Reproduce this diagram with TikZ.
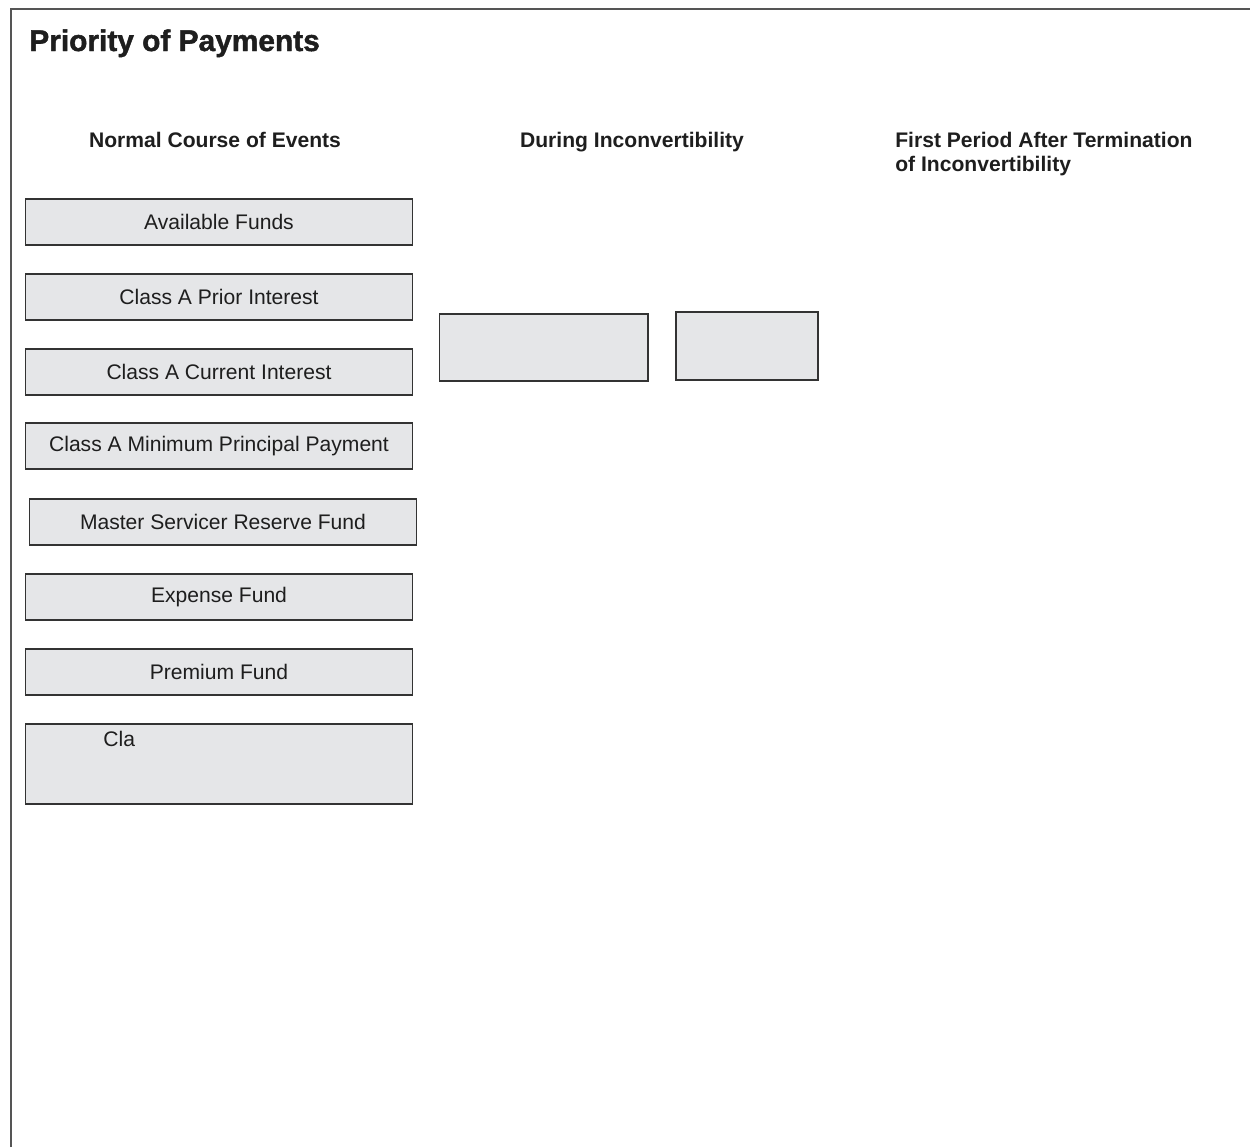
\documentclass[tikz,border=0pt]{standalone}
\usepackage{fontspec}
\setmainfont{Liberation Sans}
\newfontfamily\heavyfont[FakeBold=1.5]{Liberation Sans Bold}
\usepackage{xcolor}
\usepackage{tikz}
\usetikzlibrary{positioning}

\definecolor{boxfill}{HTML}{E5E6E8}
\definecolor{boxline}{HTML}{333333}
\definecolor{frameline}{HTML}{555555}
\definecolor{inktext}{HTML}{1E1E1E}

\tikzset{
  fundbox/.style={draw=boxline,fill=boxfill,line width=0.6pt,text=inktext,
    minimum width=7.76cm,minimum height=0.92cm,inner sep=0pt,
    font=\fontsize{12}{14}\selectfont},
  colhead/.style={font=\fontsize{12}{13.6}\selectfont\bfseries,text=inktext,inner sep=0pt},
}

\begin{document}
\begin{tikzpicture}[x=0.02cm,y=-0.02cm]

  % Page size
  \useasboundingbox (0,0) rectangle (1250,1147);

  % Frame
  \draw[frameline,line width=0.9pt] (11,1147) -- (11,9) -- (1250,9);

  % Title
  \node[anchor=base west,inner sep=0pt,text=inktext,font=\fontsize{17}{19}\heavyfont]
    (title) at (29,51) {Priority of Payments};

  % Column headings
  \node[colhead,anchor=base] (normal) at (215,147) {Normal Course of Events};
  \node[colhead,anchor=base] (during) at (632,147) {During Inconvertibility};
  \node[colhead,anchor=base west,align=left]
    (after) at (895,171) {First Period After Termination\\of Inconvertibility};

  % Normal course boxes
  \node[fundbox] (avail)  at (219,222) {Available Funds};
  \node[fundbox] (prior)  at (219,297) {Class A Prior Interest};
  \node[fundbox] (curr)   at (219,372) {Class A Current Interest};
  \node[fundbox] (minpp)  at (219,446) {Class A Minimum Principal Payment};
  \node[fundbox] (msrf)   at (223,522) {Master Servicer Reserve Fund};
  \node[fundbox] (expf)   at (219,597) {Expense Fund};
  \node[fundbox] (premf)  at (219,672) {Premium Fund};
  \node[fundbox,minimum height=1.6cm] (clas) at (219,764) {};
  \node[anchor=base west,inner sep=0pt,text=inktext,font=\fontsize{12}{14}\selectfont]
    (clastxt) at (103,746) {Cla};

  % During inconvertibility boxes
  \node[fundbox,minimum width=4.18cm,minimum height=1.34cm] (dura) at (543.5,347.5) {};
  \node[fundbox,minimum width=2.84cm,minimum height=1.36cm] (durb) at (747,346) {};

\end{tikzpicture}
\end{document}
